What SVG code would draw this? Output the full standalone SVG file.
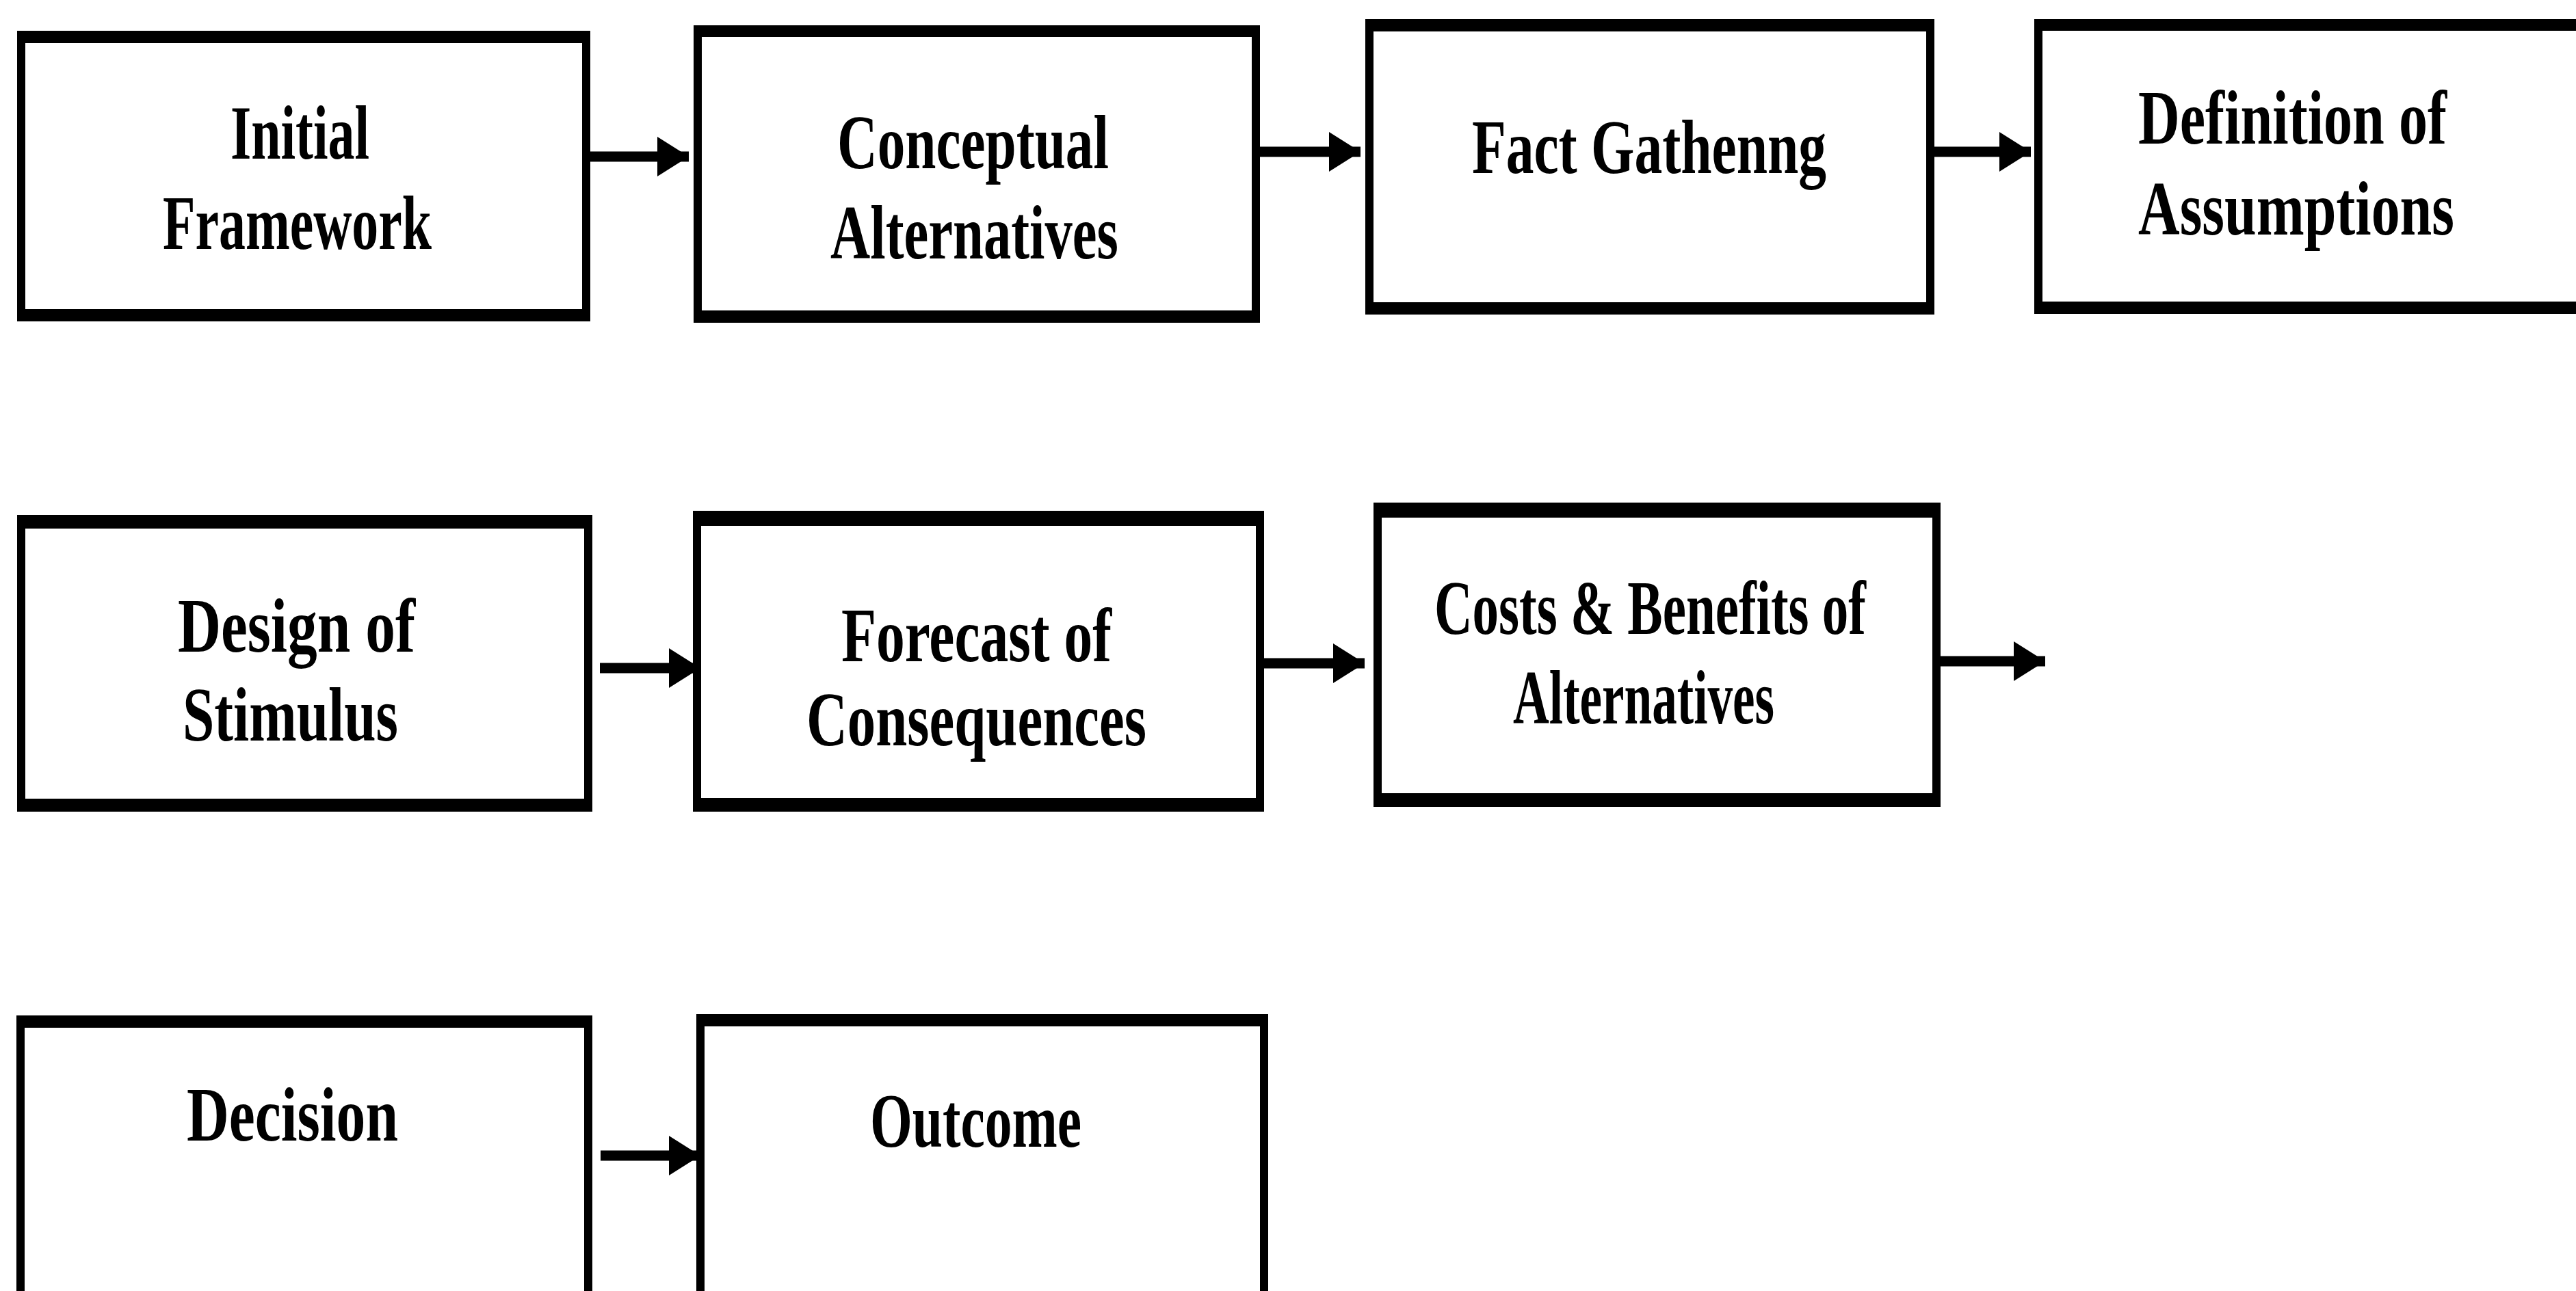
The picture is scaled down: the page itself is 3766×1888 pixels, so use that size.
<svg xmlns="http://www.w3.org/2000/svg" width="3766" height="1888" viewBox="0 0 3766 1888">
  <style>
    .frame { fill: #ffffff; stroke: #000000; stroke-width: 12; }
    .band { fill: #000000; }
    .label { font-family: "Liberation Serif", "DejaVu Serif", serif; font-weight: bold; font-size: 112px; fill: #000000; }
    .link { stroke: #000000; stroke-width: 15; fill: none; }
  </style>
  <defs>
    <marker id="head" markerUnits="userSpaceOnUse" markerWidth="48" markerHeight="60" refX="46" refY="29" orient="auto">
      <path d="M0,0 L46,29 L0,58 Z" fill="#000000"/>
    </marker>
  </defs>
  <rect x="0" y="0" width="3766" height="1888" fill="#ffffff"/>

  <!-- row 1 -->
  <g id="initial-framework">
    <rect class="frame" x="31" y="51" width="826" height="413"/>
    <rect class="band" x="25" y="45" width="838" height="18"/>
    <rect class="band" x="25" y="452" width="838" height="18"/>
    <text class="label" x="337" y="232" textLength="203" lengthAdjust="spacingAndGlyphs">Initial</text>
    <text class="label" x="238" y="364" textLength="393" lengthAdjust="spacingAndGlyphs">Framework</text>
  </g>
  <g id="conceptual-alternatives">
    <rect class="frame" x="1020" y="43" width="816" height="423"/>
    <rect class="band" x="1014" y="37" width="828" height="17"/>
    <rect class="band" x="1014" y="454" width="828" height="18"/>
    <text class="label" x="1224" y="246" textLength="397" lengthAdjust="spacingAndGlyphs">Conceptual</text>
    <text class="label" x="1214" y="378" textLength="421" lengthAdjust="spacingAndGlyphs">Alternatives</text>
  </g>
  <g id="fact-gathering">
    <rect class="frame" x="2002" y="34" width="820" height="420"/>
    <rect class="band" x="1996" y="28" width="832" height="18"/>
    <rect class="band" x="1996" y="442" width="832" height="18"/>
    <text class="label" x="2152" y="253" textLength="518" lengthAdjust="spacingAndGlyphs">Fact Gathenng</text>
  </g>
  <g id="definition-of-assumptions">
    <rect class="frame" x="2980" y="34" width="820" height="419"/>
    <rect class="band" x="2974" y="28" width="830" height="17"/>
    <rect class="band" x="2974" y="441" width="830" height="18"/>
    <text class="label" x="3126" y="210" textLength="451" lengthAdjust="spacingAndGlyphs">Definition of</text>
    <text class="label" x="3126" y="343" textLength="462" lengthAdjust="spacingAndGlyphs">Assumptions</text>
  </g>

  <!-- row 2 -->
  <g id="design-of-stimulus">
    <rect class="frame" x="31" y="759" width="829" height="422"/>
    <rect class="band" x="25" y="753" width="841" height="20"/>
    <rect class="band" x="25" y="1168" width="841" height="19"/>
    <text class="label" x="260" y="953" textLength="347" lengthAdjust="spacingAndGlyphs">Design of</text>
    <text class="label" x="267" y="1083" textLength="315" lengthAdjust="spacingAndGlyphs">Stimulus</text>
  </g>
  <g id="forecast-of-consequences">
    <rect class="frame" x="1019" y="753" width="823" height="428"/>
    <rect class="band" x="1013" y="747" width="835" height="22"/>
    <rect class="band" x="1013" y="1167" width="835" height="20"/>
    <text class="label" x="1230" y="967" textLength="395" lengthAdjust="spacingAndGlyphs">Forecast of</text>
    <text class="label" x="1179" y="1090" textLength="497" lengthAdjust="spacingAndGlyphs">Consequences</text>
  </g>
  <g id="costs-benefits">
    <rect class="frame" x="2014" y="741" width="817" height="433"/>
    <rect class="band" x="2008" y="735" width="829" height="22"/>
    <rect class="band" x="2008" y="1160" width="829" height="20"/>
    <text class="label" x="2097" y="927" textLength="631" lengthAdjust="spacingAndGlyphs">Costs &amp; Benefits of</text>
    <text class="label" x="2212" y="1058" textLength="382" lengthAdjust="spacingAndGlyphs">Alternatives</text>
  </g>

  <!-- row 3 -->
  <g id="decision">
    <rect class="frame" x="30" y="1491" width="830" height="420"/>
    <rect class="band" x="24" y="1485" width="842" height="18"/>
    <text class="label" x="273" y="1668" textLength="309" lengthAdjust="spacingAndGlyphs">Decision</text>
  </g>
  <g id="outcome">
    <rect class="frame" x="1024" y="1489" width="824" height="420"/>
    <rect class="band" x="1018" y="1483" width="836" height="18"/>
    <text class="label" x="1272" y="1677" textLength="309" lengthAdjust="spacingAndGlyphs">Outcome</text>
  </g>

  <!-- connectors -->
  <g id="connectors">
    <line class="link" x1="863" y1="229" x2="1007" y2="229" marker-end="url(#head)"/>
    <line class="link" x1="1842" y1="222" x2="1989" y2="222" marker-end="url(#head)"/>
    <line class="link" x1="2828" y1="222" x2="2969" y2="222" marker-end="url(#head)"/>
    <line class="link" x1="877" y1="977" x2="1024" y2="977" marker-end="url(#head)"/>
    <line class="link" x1="1848" y1="970" x2="1995" y2="970" marker-end="url(#head)"/>
    <line class="link" x1="2837" y1="967" x2="2990" y2="967" marker-end="url(#head)"/>
    <line class="link" x1="878" y1="1690" x2="1024" y2="1690" marker-end="url(#head)"/>
  </g>
</svg>
